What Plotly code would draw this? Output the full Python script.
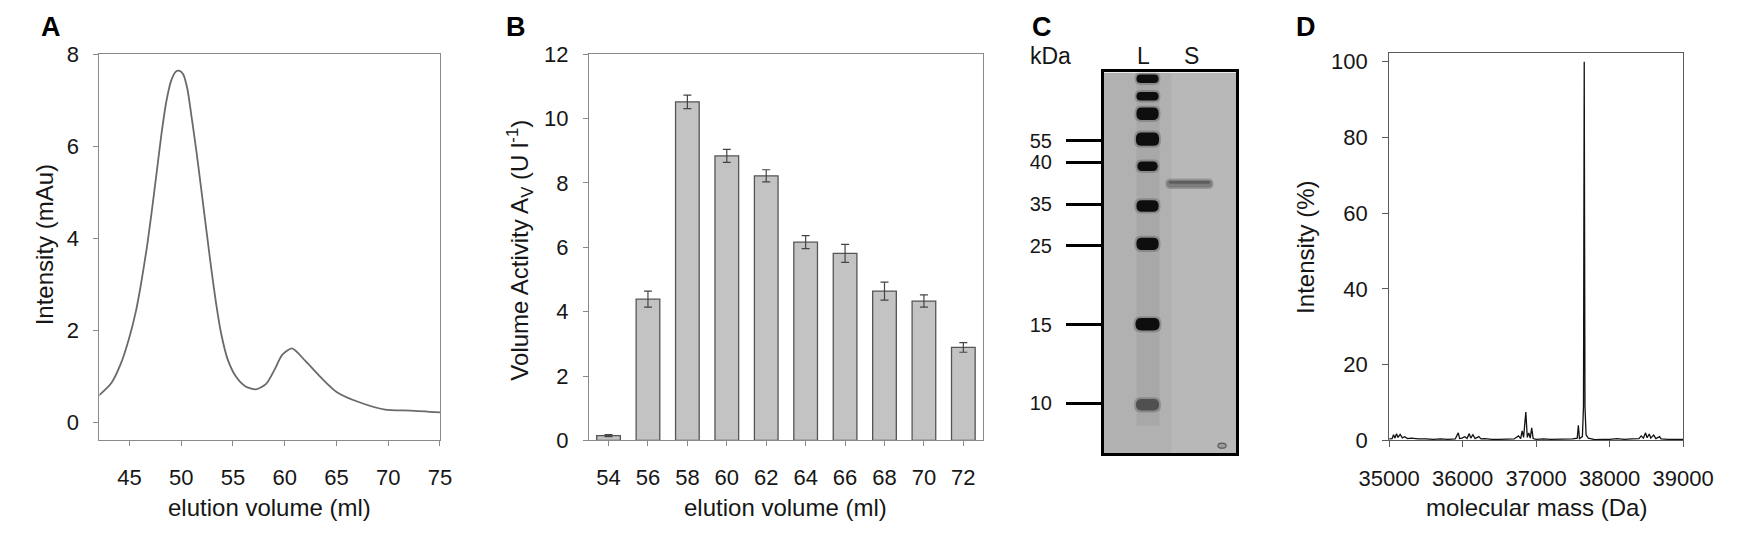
import plotly.graph_objects as go

W, H = 1751, 546
FONT = "Liberation Sans, Arial, sans-serif"
INK = "#161616"

# A: size exclusion chromatogram
elution_ml = [42.0, 43.25, 44.18, 44.97, 45.59, 46.05, 46.68, 47.15, 47.61, 48.08,
              48.55, 49.02, 49.48, 49.79, 50.17, 50.58, 51.04, 51.51, 51.98, 52.44,
              52.91, 53.38, 53.85, 54.46, 55.25, 56.18, 57.21, 58.20, 58.99, 59.76,
              60.70, 61.95, 63.49, 65.04, 67.21, 69.69, 72.17, 75.0]
intensity_mau = [0.57, 0.85, 1.28, 1.83, 2.38, 2.92, 3.80, 4.58, 5.40, 6.25,
                 6.96, 7.42, 7.62, 7.64, 7.57, 7.26, 6.57, 5.81, 4.98, 4.15,
                 3.32, 2.56, 1.93, 1.38, 1.00, 0.78, 0.71, 0.83, 1.13, 1.46,
                 1.60, 1.34, 0.97, 0.65, 0.43, 0.27, 0.25, 0.21]

# B: volume activity of the collected fractions
fraction_ml = [54, 56, 58, 60, 62, 64, 66, 68, 70, 72]
activity = [0.15, 4.39, 10.52, 8.84, 8.22, 6.16, 5.81, 4.64, 4.33, 2.89]
activity_err = [0.03, 0.25, 0.21, 0.20, 0.19, 0.20, 0.28, 0.28, 0.19, 0.15]

# C: SDS-PAGE, migration measured from the top of the gel
marker_kda = ["55", "40", "35", "25", "15", "10"]
marker_pos = [71.7, 94.0, 138.4, 181.7, 264.4, 346.7]
ladder_pos = [6.7, 25.0, 43.4, 70.0, 98.4, 140.0, 179.7, 264.0, 348.4]
sample_pos = [116.7]

# D: deconvoluted mass spectrum
mass_da = [35000, 35040, 35060, 35080, 35100, 35120, 35150, 35180, 35210, 35250,
           35300, 35400, 35500, 35600, 35700, 35800, 35900, 35940, 35960, 35990,
           36030, 36060, 36090, 36110, 36140, 36170, 36220, 36250, 36300, 36400,
           36500, 36600, 36700, 36760, 36790, 36810, 36830, 36860, 36880, 36900,
           36920, 36940, 36960, 37000, 37100, 37200, 37300, 37400, 37500, 37560,
           37575, 37590, 37630, 37645, 37655, 37665, 37680, 37710, 37760, 37800,
           37900, 38000, 38100, 38200, 38300, 38400, 38430, 38460, 38490, 38510,
           38540, 38560, 38600, 38630, 38680, 38700, 38800, 38900, 39000]
mass_int = [0.4, 0.5, 1.5, 0.6, 1.8, 0.8, 1.6, 0.7, 1.0, 0.5,
            0.6, 0.4, 0.4, 0.3, 0.4, 0.3, 0.4, 2.0, 0.5, 0.6,
            1.0, 0.5, 1.8, 0.6, 1.5, 0.5, 1.0, 0.4, 0.5, 0.3,
            0.3, 0.4, 0.4, 1.2, 0.5, 2.5, 0.8, 7.5, 0.8, 2.0,
            0.6, 3.3, 0.5, 0.3, 0.4, 0.3, 0.3, 0.4, 0.4, 0.6,
            4.0, 0.5, 1.0, 9.0, 100.0, 9.0, 1.5, 0.6, 0.4, 0.2,
            0.3, 0.3, 0.5, 0.3, 0.4, 0.5, 1.2, 0.6, 2.0, 0.7,
            1.7, 0.6, 1.4, 0.5, 1.0, 0.4, 0.3, 0.3, 0.3]


def px_x(x):
    return x / W


def px_y(y):
    return 1 - y / H


def band_path(xc, yc, w, h):
    r = min(h / 2, w / 4)
    x0, x1, y0, y1 = xc - w / 2, xc + w / 2, yc - h / 2, yc + h / 2
    return (f"M{x0 + r},{y0} L{x1 - r},{y0} Q{x1},{y0} {x1},{y0 + r} "
            f"L{x1},{y1 - r} Q{x1},{y1} {x1 - r},{y1} L{x0 + r},{y1} "
            f"Q{x0},{y1} {x0},{y1 - r} L{x0},{y0 + r} Q{x0},{y0} {x0 + r},{y0} Z")


fig = go.Figure()

fig.add_trace(go.Scatter(
    x=elution_ml, y=intensity_mau, mode="lines", xaxis="x", yaxis="y",
    line=dict(color="#6a6a6a", width=1.8, shape="spline", smoothing=0.7),
))

fig.add_trace(go.Bar(
    x=fraction_ml, y=activity, width=1.2, xaxis="x2", yaxis="y2",
    marker=dict(color="#c3c3c3", line=dict(color="#555555", width=1.3)),
    error_y=dict(type="data", array=activity_err, color="#444444", thickness=1.2, width=4),
))

fig.add_trace(go.Scatter(
    x=mass_da, y=mass_int, mode="lines", xaxis="x4", yaxis="y4",
    line=dict(color="#111111", width=1.3),
))

ax_common = dict(showgrid=False, zeroline=False, showline=True, mirror=True,
                 ticks="outside", ticklen=5, tickfont=dict(size=22, color=INK, family=FONT))

bottom, top = px_y(449), px_y(44.2)
fig.update_layout(
    xaxis=dict(ax_common, domain=[px_x(71), px_x(424)], range=[42.1, 75],
               tickvals=[45, 50, 55, 60, 65, 70, 75], linecolor="#8a8a8a", tickcolor="#8a8a8a",
               anchor="y", ticklabelstandoff=12),
    yaxis=dict(ax_common, domain=[bottom, top], range=[-0.4, 8], tickvals=[0, 2, 4, 6, 8],
               linecolor="#8a8a8a", tickcolor="#8a8a8a", anchor="x", ticklabelstandoff=10),
    xaxis2=dict(ax_common, domain=[px_x(578.3), px_x(987)], range=[53, 73], tickvals=fraction_ml,
                linecolor="#8a8a8a", tickcolor="#8a8a8a", anchor="y2", ticklabelstandoff=12),
    yaxis2=dict(ax_common, domain=[bottom, top], range=[0, 12], tickvals=[0, 2, 4, 6, 8, 10, 12],
                linecolor="#8a8a8a", tickcolor="#8a8a8a", anchor="x2", ticklabelstandoff=10),
    xaxis3=dict(domain=[px_x(1112), px_x(1249.3)], range=[0, 137.3], showgrid=False, zeroline=False,
                showline=True, mirror=True, linecolor="black", linewidth=2.5, showticklabels=False,
                ticks="", anchor="y3"),
    yaxis3=dict(domain=[px_y(462.4), px_y(63.3)], range=[399.1, 0], showgrid=False, zeroline=False,
                showline=True, mirror=True, linecolor="black", linewidth=2.5,
                tickvals=marker_pos, ticktext=marker_kda, ticks="outside", ticklen=35, tickwidth=3,
                tickcolor="black", tickfont=dict(size=20, color=INK, family=FONT),
                ticklabelstandoff=10, anchor="x3"),
    xaxis4=dict(ax_common, domain=[px_x(1408), px_x(1712.7)], range=[35000, 39000],
                tickvals=[35000, 36000, 37000, 38000, 39000], tickformat="d",
                linecolor="#5a5a5a", tickcolor="#5a5a5a", ticklen=6, anchor="y4", ticklabelstandoff=12),
    yaxis4=dict(ax_common, domain=[bottom, px_y(43.3)], range=[0, 102.2],
                tickvals=[0, 20, 40, 60, 80, 100], linecolor="#5a5a5a", tickcolor="#5a5a5a",
                ticklen=6, anchor="x4", ticklabelstandoff=10),
)

# gel body and bands
shapes = [dict(type="rect", xref="x3", yref="y3", x0=0, x1=137.3, y0=0, y1=399.1,
               fillcolor="#b1b1b1", line=dict(width=0), layer="below"),
          dict(type="rect", xref="x3", yref="y3", x0=70, x1=137.3, y0=0, y1=399.1,
               fillcolor="rgba(255,255,255,0.09)", line=dict(width=0), layer="below"),
          dict(type="rect", xref="x3", yref="y3", x0=34, x1=58, y0=0, y1=370,
               fillcolor="rgba(0,0,0,0.05)", line=dict(width=0), layer="below")]
band_h = [9, 9, 13, 14, 10, 12, 13, 13, 12]
band_w = [23, 23, 23, 24, 21, 23, 23, 25, 24]
for i, pos in enumerate(ladder_pos):
    last = i == len(ladder_pos) - 1
    shapes.append(dict(type="path", xref="x3", yref="y3",
                       path=band_path(45.5, pos, band_w[i] + 4, band_h[i] + 4),
                       fillcolor="rgba(0,0,0,0.18)", line=dict(width=0)))
    shapes.append(dict(type="path", xref="x3", yref="y3", path=band_path(45.5, pos, band_w[i], band_h[i]),
                       fillcolor="#505050" if last else "#0e0e0e", line=dict(width=0)))
for pos in sample_pos:
    shapes.append(dict(type="path", xref="x3", yref="y3", path=band_path(89, pos, 50, 11),
                       fillcolor="rgba(90,90,90,0.35)", line=dict(width=0)))
    shapes.append(dict(type="path", xref="x3", yref="y3", path=band_path(89, pos, 47, 8),
                       fillcolor="#7c7c7c", line=dict(width=0)))
    shapes.append(dict(type="path", xref="x3", yref="y3", path=band_path(89, pos - 1.5, 43, 3),
                       fillcolor="#5e5e5e", line=dict(width=0)))
shapes.append(dict(type="circle", xref="x3", yref="y3", x0=118.5, x1=127, y0=388.5, y1=393.8,
                   line=dict(color="#5a5a5a", width=1.2), fillcolor="#9a9a9a"))
fig.update_layout(shapes=shapes)


def label(text, x, y, size=24, bold=False, angle=0):
    fig.add_annotation(text=f"<b>{text}</b>" if bold else text, x=px_x(x), y=px_y(y),
                       xref="paper", yref="paper", showarrow=False, textangle=angle,
                       xanchor="center", yanchor="middle",
                       font=dict(size=size, color="black" if bold else INK, family=FONT))


label("A", 20.5, 16, size=27, bold=True)
label("B", 502.5, 16, size=27, bold=True)
label("C", 1048, 16, size=27, bold=True)
label("D", 1321.5, 16, size=27, bold=True)
label("elution volume (ml)", 247.5, 519)
label("elution volume (ml)", 782.6, 519)
label("molecular mass (Da)", 1560.4, 519)
label("Intensity (mAu)", 14, 244, angle=-90)
label("Volume Activity A<sub>V</sub> (U l<sup>-1</sup>)", 506, 250, angle=-90)
label("Intensity (%)", 1322, 247, angle=-90)
label("kDa", 1057, 46, size=23)
label("L", 1153.3, 46, size=23)
label("S", 1203, 46, size=23)

fig.update_layout(
    width=W, height=H, margin=dict(l=0, r=0, t=0, b=0),
    paper_bgcolor="white", plot_bgcolor="white", showlegend=False,
    font=dict(family=FONT, color=INK, size=22),
)

fig.write_html("out.html", config={"displayModeBar": False},
               post_script="document.body.style.margin='0';")
